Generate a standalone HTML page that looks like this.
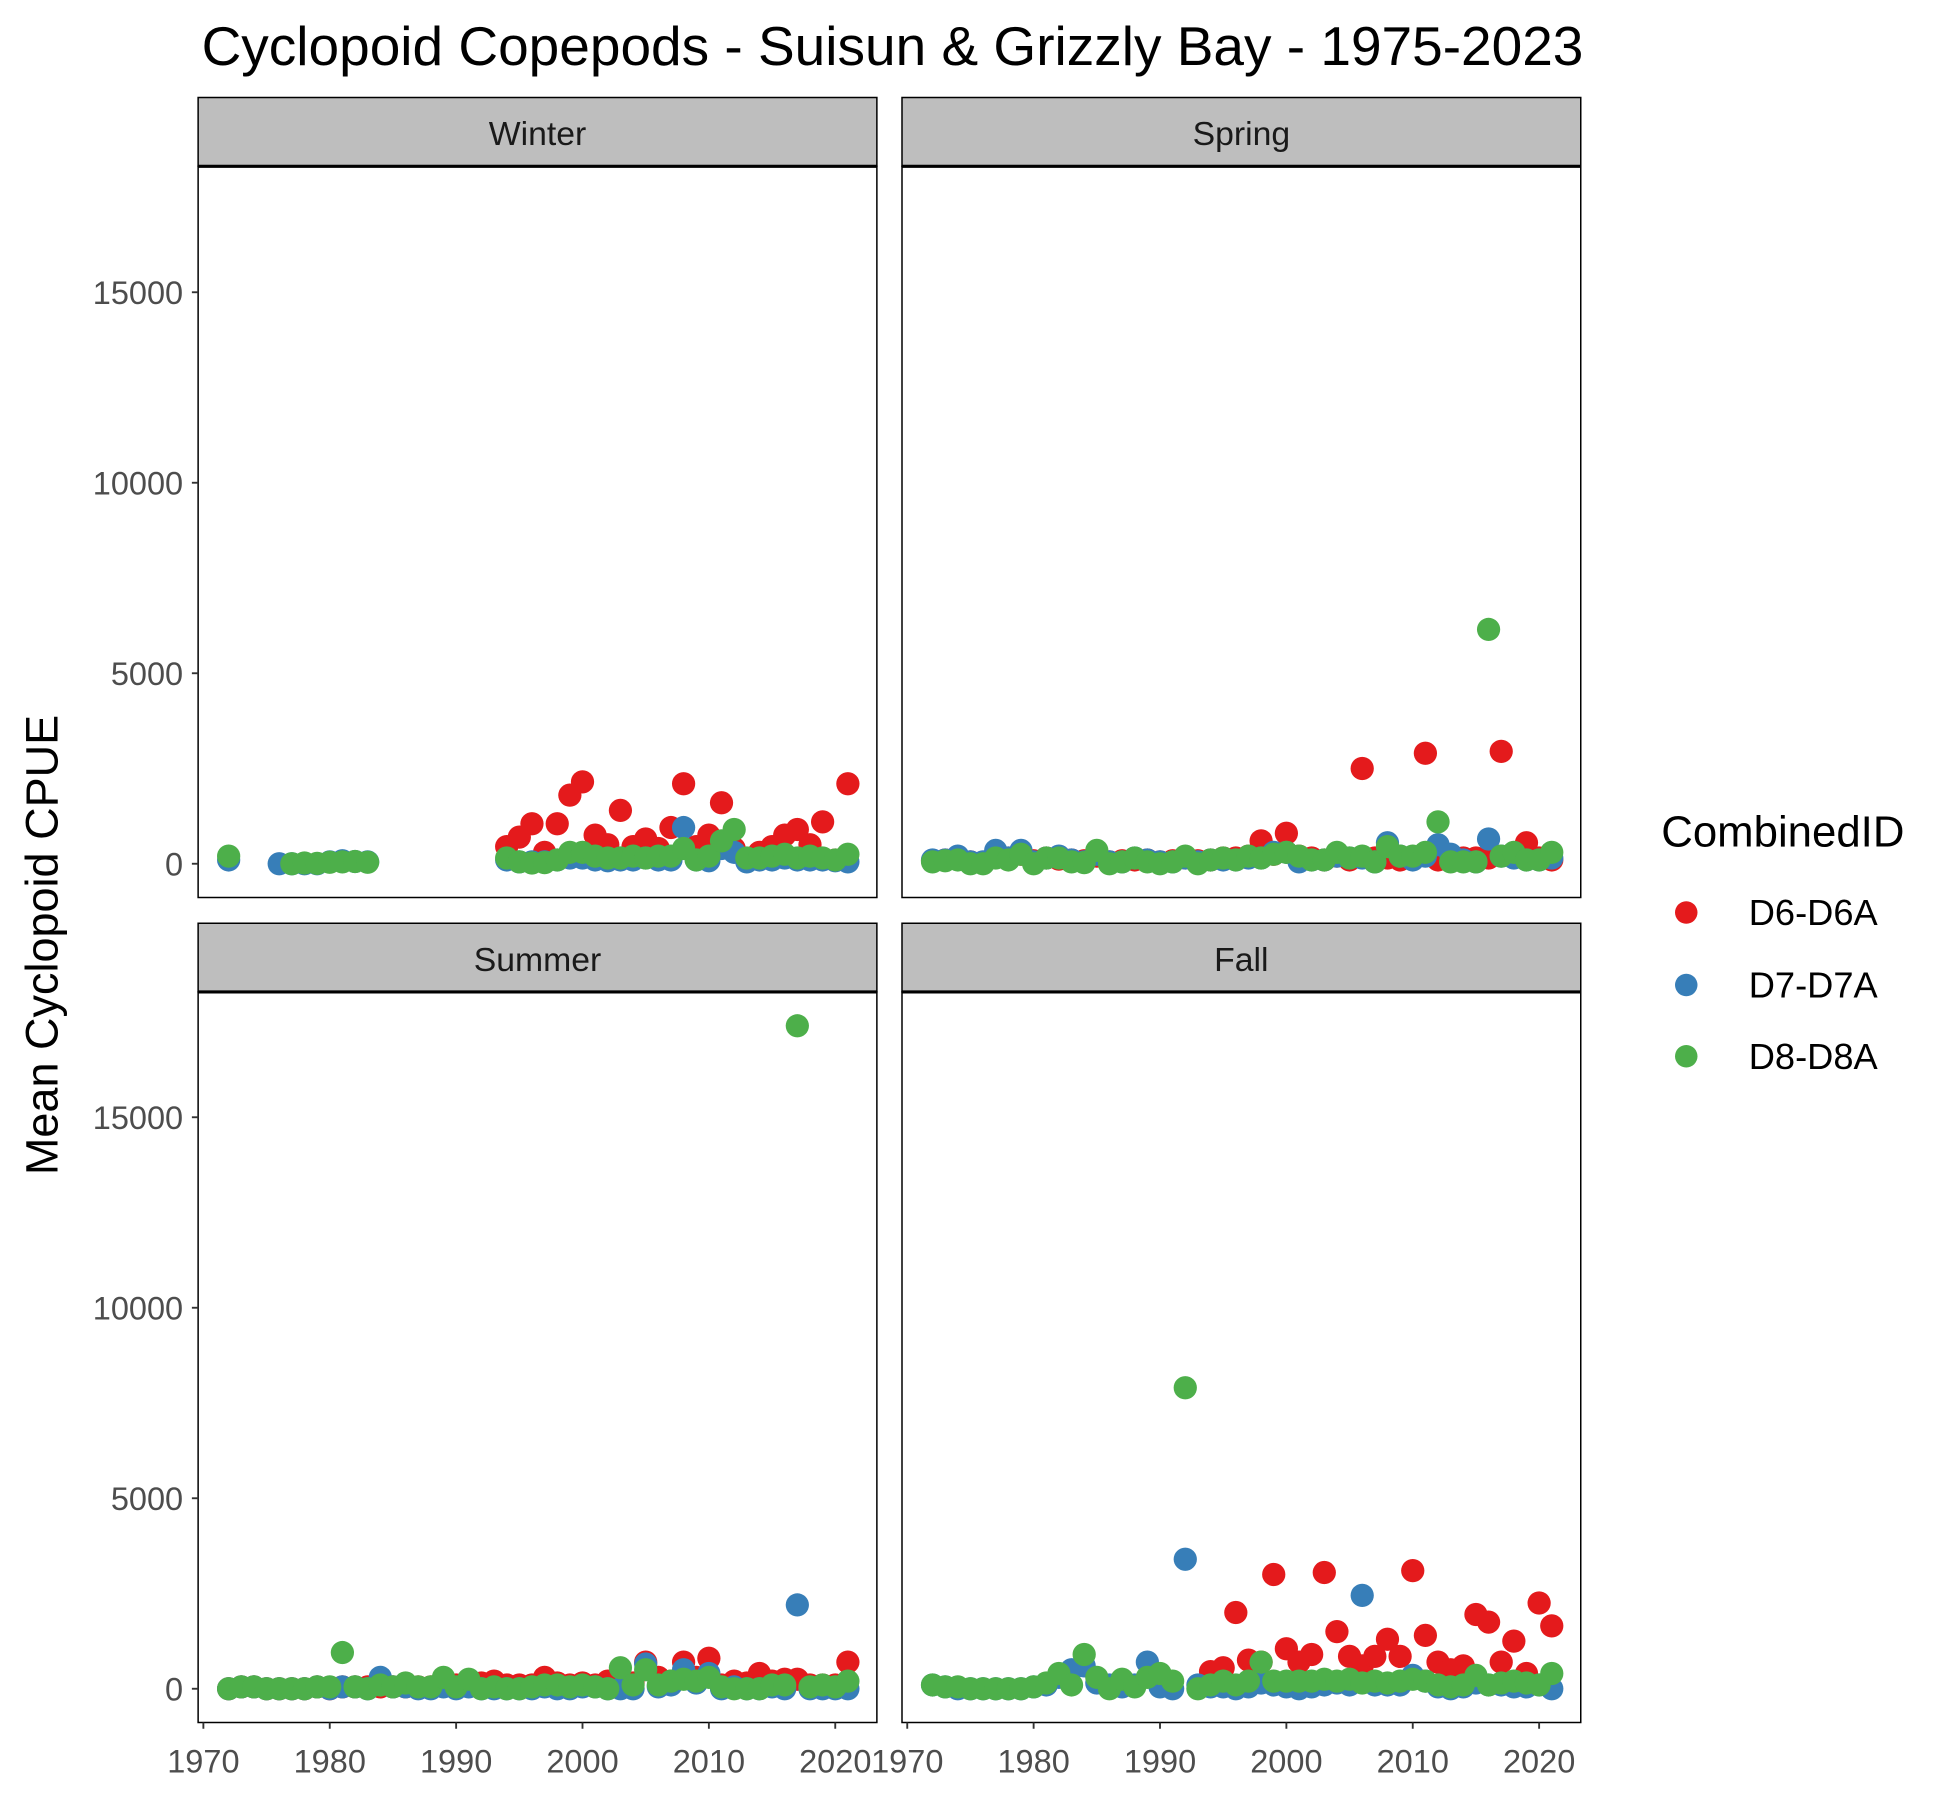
<!DOCTYPE html>
<html><head><meta charset="utf-8"><style>
html,body{margin:0;padding:0;background:#fff}
svg{display:block;font-family:"Liberation Sans",Arial,sans-serif}
</style></head><body>
<svg id="chart" width="1950" height="1800" viewBox="0 0 1560 1440" xmlns="http://www.w3.org/2000/svg">
<rect width="1560" height="1440" fill="#fff"/>
<text x="714" y="52" font-size="44" text-anchor="middle" fill="#000">Cyclopoid Copepods - Suisun &amp; Grizzly Bay - 1975-2023</text>
<text transform="translate(46,756) rotate(-90)" font-size="36" text-anchor="middle" fill="#000">Mean Cyclopoid CPUE</text>
<g>
<text x="1329" y="677" font-size="35" fill="#000">CombinedID</text>
<circle cx="1349" cy="730" r="9" fill="#E41A1C"/>
<text x="1399" y="740" font-size="29" fill="#000">D6-D6A</text>
<circle cx="1349" cy="788" r="9" fill="#377EB8"/>
<text x="1399" y="798" font-size="29" fill="#000">D7-D7A</text>
<circle cx="1349" cy="845" r="9" fill="#4DAF4A"/>
<text x="1399" y="855" font-size="29" fill="#000">D8-D8A</text>
</g>
<g id="panels"></g>
</svg>
<script>
// years 1972..2021 (50 values), null = missing
const startYear = 1972;
const seasons = ["Winter","Spring","Summer","Fall"];
const winterD6 = [null,null,null,null,null,null,null,null,null,null,null,null,null,null,null,null,null,null,null,null,null,null,450,700,1050,300,1050,1800,2150,750,500,1400,450,650,400,950,2100,450,750,1600,400,100,300,450,750,900,500,1100,100,2100];
const winterD7 = [100,null,null,null,0,0,0,0,50,80,60,50,null,null,null,null,null,null,null,null,null,null,100,50,50,50,100,150,150,100,80,100,100,150,100,100,950,100,80,400,300,50,100,100,150,100,100,100,80,50];
const winterD8 = [200,null,null,null,null,0,20,10,40,50,60,40,null,null,null,null,null,null,null,null,null,null,150,50,20,30,100,300,300,200,150,150,200,150,200,200,400,100,200,600,900,150,150,200,250,150,200,150,100,250];
const springD6 = [80,100,150,50,30,200,150,250,80,150,120,100,80,200,50,80,100,100,50,80,150,80,100,150,150,200,600,250,800,200,150,100,200,100,2500,150,150,100,150,2900,100,100,150,150,150,2950,200,550,150,100];
const springD7 = [100,100,200,50,50,350,150,350,50,150,200,100,50,250,50,50,150,100,50,50,150,50,100,100,100,150,150,300,300,50,100,100,200,150,150,50,550,200,100,200,500,250,100,50,650,200,150,100,100,150];
const springD8 = [50,80,100,0,0,150,100,250,0,150,150,50,30,350,0,50,150,50,0,50,200,0,100,150,100,200,150,250,300,200,100,100,300,150,200,50,450,200,200,300,1100,50,50,50,6150,200,300,100,100,300];
const summerD6 = [0,50,50,0,0,0,0,50,0,50,50,50,50,50,50,50,50,100,100,100,150,200,100,100,100,300,150,100,150,100,200,150,150,700,300,200,700,300,800,100,200,150,400,200,250,250,100,100,100,700];
const summerD7 = [0,50,50,0,0,0,0,50,0,50,50,0,300,50,50,0,0,50,0,50,0,0,0,0,0,50,0,0,50,50,0,0,0,650,50,100,500,150,400,0,50,0,0,50,0,2200,0,0,0,0];
const summerD8 = [0,50,50,0,0,0,0,50,50,950,50,0,100,50,150,50,50,300,50,250,0,50,0,0,50,100,100,50,100,50,0,550,100,500,100,200,250,200,300,50,0,0,0,100,100,17400,50,100,50,200];
const fallD6 = [null,null,null,null,null,null,null,null,null,null,null,null,null,null,null,null,null,null,null,null,null,null,450,550,2000,750,700,3000,1050,700,900,3050,1500,850,600,850,1300,850,3100,1400,700,500,600,1950,1750,700,1250,400,2250,1650];
const fallD7 = [100,50,0,0,0,0,0,0,50,100,300,500,600,150,100,50,100,700,50,0,3400,100,50,50,0,50,150,100,50,0,50,100,150,100,2450,100,100,100,350,200,50,0,50,150,100,100,50,50,100,0];
const fallD8 = [100,50,50,0,0,0,0,0,50,150,400,100,900,300,0,250,50,300,400,200,7900,0,100,200,100,200,700,200,200,200,200,250,200,250,150,200,150,200,250,200,100,50,100,350,100,150,200,150,100,400];
const seriesByPanel = [
  [winterD6, winterD7, winterD8],
  [springD6, springD7, springD8],
  [summerD6, summerD7, summerD8],
  [fallD6, fallD7, fallD8]
];
const seriesNames = ["d6","d7","d8"];
const colors = ["#E41A1C","#377EB8","#4DAF4A"];
const yTicks = [0,5000,10000,15000];
const xTicks = [1970,1980,1990,2000,2010,2020];

const NS = "http://www.w3.org/2000/svg";
const root = document.getElementById("panels");
function mk(tag, attrs, parent){
  const e = document.createElementNS(NS, tag);
  for (const k in attrs) e.setAttribute(k, attrs[k]);
  parent.appendChild(e);
  return e;
}
const panelX = [158.5, 721.6];
const panelW = 543;
const stripY = [78, 738.6];
const plotTop = [133, 793.5];
const plotBot = [718, 1378];
const zeroY = [691, 1351];
const perK = 152.4/5000;
for (let p = 0; p < 4; p++) {
  const col = p % 2, row = Math.floor(p / 2);
  const x0 = panelX[col];
  const g = mk("g", {}, root);
  
  
  const xs = yr => x0 + 4.2 + (yr - 1970) * 10.11;
  const ys = v => zeroY[row] - v * perK;
  const strip = mk("rect", {x:x0, y:stripY[row], width:panelW, height:plotTop[row]-stripY[row], fill:"#bebebe", stroke:"#000", "stroke-width":1.2}, g);
  
  
  const st = mk("text", {x:x0+panelW/2, y:stripY[row]+38, "font-size":27, "text-anchor":"middle", fill:"#1a1a1a"}, g);
  st.textContent = seasons[p];
  
  
  const frame = mk("rect", {x:x0, y:plotTop[row], width:panelW, height:plotBot[row]-plotTop[row], fill:"#fff", stroke:"#000", "stroke-width":1.2}, g);
  
  
  mk("line", {x1:x0, x2:x0+panelW, y1:plotTop[row], y2:plotTop[row], stroke:"#000", "stroke-width":2.5}, g);
  if (col === 0) {
    yTicks.forEach(t => {
      mk("line", {x1:x0-5, x2:x0, y1:ys(t), y2:ys(t), stroke:"#333", "stroke-width":1.5}, g);
      const tl = mk("text", {x:x0-12, y:ys(t)+9.5, "font-size":26, "text-anchor":"end", fill:"#4d4d4d"}, g);
      tl.textContent = t;
      
      
    });
  }
  if (row === 1) {
    xTicks.forEach(t => {
      mk("line", {x1:xs(t), x2:xs(t), y1:plotBot[row], y2:plotBot[row]+5, stroke:"#333", "stroke-width":1.5}, g);
      const tl = mk("text", {x:xs(t), y:plotBot[row]+40, "font-size":26, "text-anchor":"middle", fill:"#4d4d4d"}, g);
      tl.textContent = t;
      
      
    });
  }
  seriesByPanel[p].forEach((arr, s) => {
    arr.forEach((v, i) => {
      if (v === null) return;
      const c = mk("circle", {cx:xs(startYear+i), cy:ys(v), r:9.3, fill:colors[s]}, g);
      
      
    });
  });
}
</script>
</body></html>
